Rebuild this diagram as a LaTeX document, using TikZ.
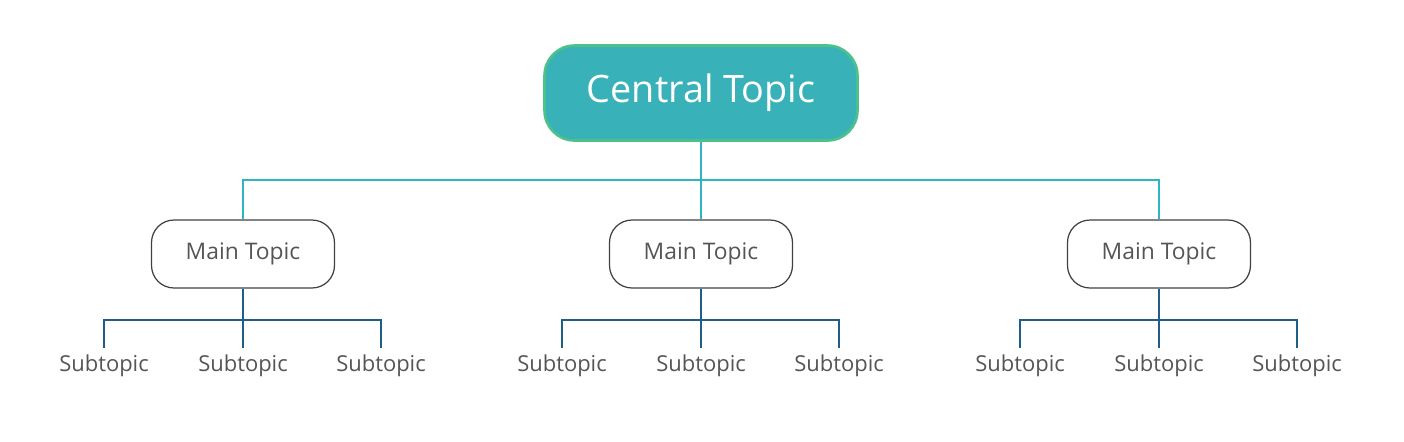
\documentclass[tikz,border=0pt]{standalone}
\usepackage{fontspec}
\setmainfont{Open Sans}
\usetikzlibrary{positioning}
\definecolor{centralfill}{HTML}{38B2B8}
\definecolor{centraledge}{HTML}{4CC28A}
\definecolor{mainline}{HTML}{2FB5C0}
\definecolor{subline}{HTML}{1F5F86}
\definecolor{txtgray}{HTML}{555555}
\tikzset{
  central/.style={draw=centraledge,line width=1.5pt,fill=centralfill,rounded corners=0.6cm,
    minimum width=6.26cm,minimum height=1.9cm,text=white,font=\fontsize{21.5}{24}\selectfont},
  maintopic/.style={draw=black!75,line width=0.7pt,rounded corners=0.45cm,minimum width=3.66cm,
    minimum height=1.36cm,text=txtgray,font=\fontsize{13}{15}\selectfont},
  subtopic/.style={text=txtgray,font=\fontsize{12.5}{14}\selectfont,inner sep=1pt},
  teal/.style={mainline,line width=1.4pt},
  blueline/.style={subline,line width=1.6pt}
}
\begin{document}
\begin{tikzpicture}[x=0.02cm,y=-0.02cm]
  \useasboundingbox (0,0) rectangle (1404,441);
  \node[central] (ct) at (701,93) {Central Topic};
  \coordinate (split) at (701,180);
  \draw[teal] (ct.south) -- (split);
  \foreach \mx/\nm in {243/ma,701/mb,1159/mc}{
    \node[maintopic] (\nm) at (\mx,254) {Main Topic};
    \draw[teal] (split) -| (\nm.north);
    \coordinate (\nm-s) at (\mx,320);
    \draw[blueline] (\nm.south) -- (\nm-s);
    \foreach \dx/\k in {-139/1,0/2,138/3}{
      \node[subtopic] (\nm-\k) at (\mx+\dx,366) {Subtopic};
      \coordinate (\nm-e\k) at (\mx+\dx,348);
      \draw[blueline] (\nm-s) -| (\nm-e\k);
    }
  }
\end{tikzpicture}
\end{document}
